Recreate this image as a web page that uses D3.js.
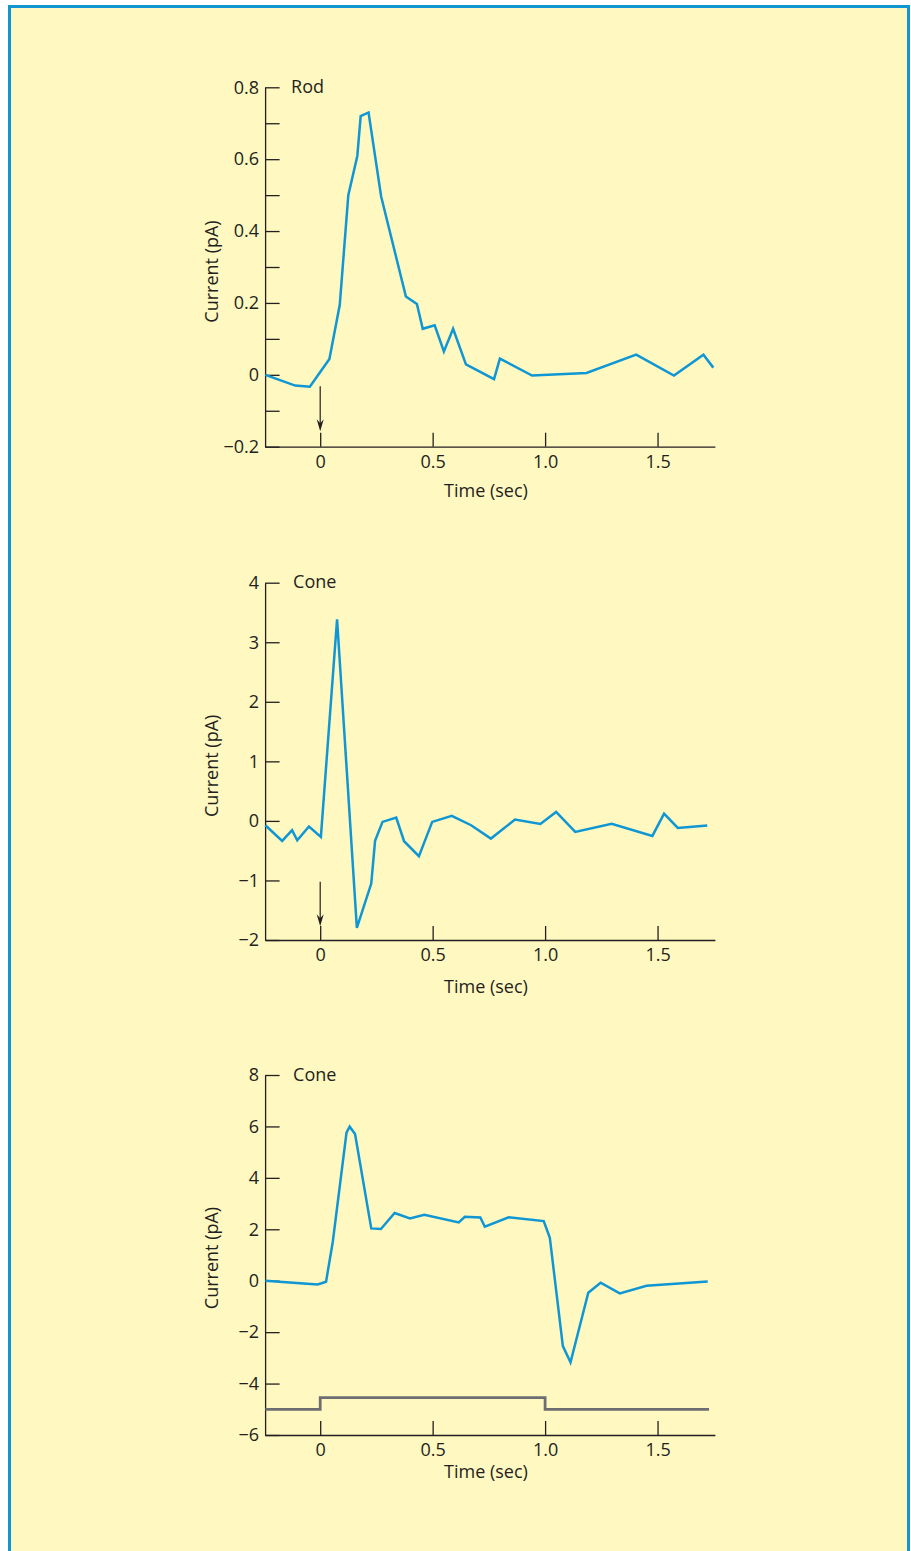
<!DOCTYPE html>
<html>
<head>
<meta charset="utf-8">
<script src="https://cdn.jsdelivr.net/npm/d3@7"></script>
<style>
  html, body { margin: 0; padding: 0; background: #ffffff; }
  svg { display: block; }
  text { font-family: "Open Sans", "Noto Sans", sans-serif; fill: #231f20; }
</style>
</head>
<body>
<svg id="chart" width="911" height="1551"></svg>
<script>
// ---------- DATA ----------
const xTicks = [0, 0.5, 1.0, 1.5];
const xTickLabels = ["0", "0.5", "1.0", "1.5"];

// Panel 1: Rod
const rodTime    = [-0.244, -0.111, -0.046, 0.041, 0.087, 0.125, 0.165, 0.180, 0.215, 0.271, 0.381, 0.430, 0.456, 0.509, 0.550, 0.591, 0.648, 0.773, 0.799, 0.942, 1.184, 1.405, 1.573, 1.704, 1.748];
const rodCurrent = [0.000, -0.030, -0.033, 0.044, 0.195, 0.500, 0.609, 0.720, 0.730, 0.496, 0.218, 0.197, 0.128, 0.138, 0.065, 0.128, 0.029, -0.012, 0.045, -0.002, 0.005, 0.056, -0.002, 0.056, 0.020];
const rodMajorTicks = [-0.2, 0, 0.2, 0.4, 0.6, 0.8];
const rodMinorTicks = [-0.1, 0.1, 0.3, 0.5, 0.7];
const rodArrow = [-0.032, -0.157];

// Panel 2: Cone (flash)
const cone1Time    = [-0.244, -0.169, -0.125, -0.102, -0.050, 0.003, 0.075, 0.163, 0.227, 0.244, 0.277, 0.338, 0.373, 0.439, 0.498, 0.585, 0.671, 0.759, 0.866, 0.979, 1.049, 1.134, 1.296, 1.477, 1.529, 1.590, 1.721];
const cone1Current = [-0.073, -0.336, -0.157, -0.325, -0.095, -0.269, 3.386, -1.796, -1.052, -0.336, -0.017, 0.056, -0.341, -0.593, -0.017, 0.084, -0.073, -0.297, 0.022, -0.050, 0.151, -0.185, -0.050, -0.252, 0.123, -0.118, -0.078];
const cone1Ticks = [-2, -1, 0, 1, 2, 3, 4];
const cone1Arrow = [-1.02, -1.77];

// Panel 3: Cone (step)
const cone2Time    = [-0.244, -0.012, 0.006, 0.026, 0.056, 0.117, 0.131, 0.155, 0.227, 0.270, 0.331, 0.399, 0.463, 0.616, 0.643, 0.712, 0.732, 0.838, 0.994, 1.021, 1.079, 1.113, 1.192, 1.247, 1.332, 1.451, 1.723];
const cone2Current = [0.000, -0.143, -0.100, -0.040, 1.517, 5.756, 5.989, 5.704, 2.035, 2.009, 2.632, 2.424, 2.567, 2.269, 2.489, 2.463, 2.100, 2.463, 2.320, 1.672, -2.541, -3.176, -0.467, -0.078, -0.493, -0.194, -0.026];
const cone2Ticks = [-6, -4, -2, 0, 2, 4, 6, 8];
const stimTime  = [-0.244, 0, 0, 1.0, 1.0, 1.729];
const stimLevel = [-5.0, -5.0, -4.55, -4.55, -5.0, -5.0];

// ---------- DRAWING ----------
const svg = d3.select("#chart");
const BG = "#fff8c0", BLUE = "#0f96d4", INK = "#231f20", GRAY = "#6d6e71";
const FS = 18;

svg.append("rect").attr("x", 9.5).attr("y", 6.5).attr("width", 899).attr("height", 1600)
  .attr("fill", BG).attr("stroke", "#1296d2").attr("stroke-width", 3);

const x = d3.scaleLinear().domain([-0.245, 1.755]).range([265.1, 714.9]);

function panel(cfg) {
  const y = d3.scaleLinear().domain(cfg.yDomain).range(cfg.yRange);
  const g = svg.append("g");
  const x0 = x.range()[0];
  const yBottom = cfg.yRange[0], yTop = cfg.yRange[1];

  // y axis
  g.append("g").attr("transform", `translate(${x0},0)`)
    .call(d3.axisLeft(y).tickValues(cfg.yTicks).tickFormat(cfg.yFormat)
      .tickSize(-14.5).tickSizeOuter(0).tickPadding(6));
  if (cfg.yMinor) {
    g.append("g").attr("transform", `translate(${x0},0)`)
      .call(d3.axisLeft(y).tickValues(cfg.yMinor).tickFormat("").tickSize(-14.5).tickSizeOuter(0))
      .select(".domain").remove();
  }
  // x axis
  g.append("g").attr("transform", `translate(0,${yBottom})`)
    .call(d3.axisBottom(x).tickValues(xTicks).tickFormat((d, i) => xTickLabels[i])
      .tickSize(-14).tickSizeOuter(0).tickPadding(8.5));

  g.selectAll(".domain, .tick line").attr("stroke", INK).attr("stroke-width", 1.3);
  g.selectAll(".tick text").attr("font-size", FS).attr("fill", INK)
    .attr("font-family", '"Open Sans", sans-serif');

  // axis titles
  g.append("text").attr("x", 486).attr("y", yBottom + cfg.xTitleOffset)
    .attr("text-anchor", "middle").attr("font-size", FS).text("Time (sec)");
  g.append("text")
    .attr("transform", `translate(217.5,${cfg.yTitleCenter}) rotate(-90)`)
    .attr("text-anchor", "middle").attr("font-size", FS).text("Current (pA)");
  // panel label
  g.append("text").attr("x", x0 + cfg.labelDx).attr("y", yTop + 5.5)
    .attr("font-size", FS).text(cfg.label);

  // stimulus
  if (cfg.stim) {
    g.append("path").datum(d3.zip(cfg.stim[0], cfg.stim[1]))
      .attr("d", d3.line().x(d => x(d[0])).y(d => y(d[1])))
      .attr("fill", "none").attr("stroke", GRAY).attr("stroke-width", 2.8);
  }
  // arrow (stimulus flash marker)
  if (cfg.arrow) {
    const ax = x(0), y1 = y(cfg.arrow[0]), yTip = y(cfg.arrow[1]);
    g.append("line").attr("x1", ax).attr("x2", ax)
      .attr("y1", y1).attr("y2", yTip - 4)
      .attr("stroke", INK).attr("stroke-width", 1.2);
    g.append("path")
      .attr("d", `M${ax},${yTip} L${ax - 3.5},${yTip - 12} L${ax},${yTip - 8} L${ax + 3.5},${yTip - 12} Z`)
      .attr("fill", INK);
  }
  // data line
  g.append("path").datum(d3.zip(cfg.t, cfg.v))
    .attr("d", d3.line().x(d => x(d[0])).y(d => y(d[1])))
    .attr("fill", "none").attr("stroke", BLUE).attr("stroke-width", 2.5)
    .attr("stroke-linejoin", "miter");
}

const fmt1 = d => d === 0 ? "0" : d3.format(".1f")(d);
const fmt0 = d => d3.format("d")(d);

panel({ yDomain: [-0.2, 0.8], yRange: [446.7, 87.3], yTicks: rodMajorTicks, yMinor: rodMinorTicks,
  yFormat: fmt1, t: rodTime, v: rodCurrent, label: "Rod", labelDx: 26, arrow: rodArrow,
  xTitleOffset: 50, yTitleCenter: 271.5 });
panel({ yDomain: [-2, 4], yRange: [940, 582.7], yTicks: cone1Ticks, yFormat: fmt0,
  t: cone1Time, v: cone1Current, label: "Cone", labelDx: 28, arrow: cone1Arrow,
  xTitleOffset: 53, yTitleCenter: 765.8 });
panel({ yDomain: [-6, 8], yRange: [1435, 1075], yTicks: cone2Ticks, yFormat: fmt0,
  t: cone2Time, v: cone2Current, label: "Cone", labelDx: 28, stim: [stimTime, stimLevel],
  xTitleOffset: 43, yTitleCenter: 1258 });
</script>
</body>
</html>
